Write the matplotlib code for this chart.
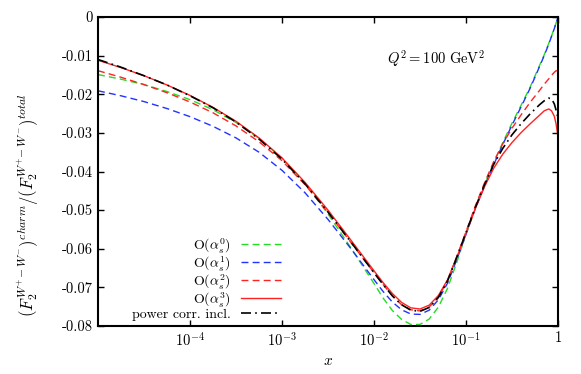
import matplotlib
matplotlib.use("Agg")
import matplotlib.pyplot as plt

plt.rcParams['font.family'] = 'serif'
plt.rcParams['font.serif'] = ['cmr10', 'DejaVu Serif']
plt.rcParams['mathtext.fontset'] = 'cm'
plt.rcParams['axes.formatter.use_mathtext'] = True

# log10 of x (momentum fraction)
logx = [-5, -4.75, -4.5, -4.25, -4, -3.75, -3.5, -3.25, -3, -2.75, -2.5, -2.25,
        -2, -1.9, -1.8, -1.7, -1.6, -1.5, -1.4, -1.3, -1.2, -1.1, -1.0, -0.9,
        -0.8, -0.7, -0.6, -0.5, -0.4, -0.3, -0.2, -0.15, -0.1, -0.07, -0.04, -0.02, 0]
x = [10 ** v for v in logx]

as0 = [-0.0149, -0.0161, -0.0175, -0.0193, -0.0214, -0.0240, -0.0273, -0.0314,
       -0.0365, -0.0430, -0.0510, -0.0598, -0.0690, -0.0728, -0.0760, -0.0783,
       -0.0796, -0.0796, -0.0782, -0.0751, -0.0702, -0.0635, -0.0562, -0.0495,
       -0.0435, -0.0378, -0.0325, -0.0275, -0.0228, -0.0180, -0.0125, -0.0098,
       -0.0068, -0.0049, -0.0029, -0.0015, 0.0]
as1 = [-0.0191, -0.0204, -0.0219, -0.0237, -0.0258, -0.0283, -0.0313, -0.0350,
       -0.0397, -0.0455, -0.0524, -0.0600, -0.0680, -0.0711, -0.0738, -0.0758,
       -0.0769, -0.0770, -0.0759, -0.0732, -0.0689, -0.0628, -0.0563, -0.0497,
       -0.0438, -0.0383, -0.0330, -0.0280, -0.0232, -0.0183, -0.0128, -0.0100,
       -0.0070, -0.0050, -0.0030, -0.0015, 0.0]
as2 = [-0.0139, -0.0156, -0.0175, -0.0196, -0.0220, -0.0248, -0.0282, -0.0323,
       -0.0372, -0.0434, -0.0506, -0.0584, -0.0662, -0.0693, -0.0722, -0.0745,
       -0.0758, -0.0761, -0.0751, -0.0725, -0.0682, -0.0620, -0.0556, -0.0490,
       -0.0430, -0.0375, -0.0328, -0.0288, -0.0253, -0.0220, -0.0190, -0.0174,
       -0.0160, -0.0151, -0.0143, -0.0139, -0.0142]
as3 = [-0.0112, -0.0131, -0.0152, -0.0176, -0.0203, -0.0234, -0.0270, -0.0313,
       -0.0365, -0.0428, -0.0500, -0.0578, -0.0657, -0.0688, -0.0716, -0.0739,
       -0.0753, -0.0756, -0.0746, -0.0721, -0.0680, -0.0622, -0.0560, -0.0497,
       -0.0440, -0.0392, -0.0355, -0.0325, -0.0299, -0.0276, -0.0254, -0.0243,
       -0.0238, -0.0243, -0.0257, -0.0278, -0.0310]
powcorr = [-0.0110, -0.0130, -0.0152, -0.0176, -0.0204, -0.0235, -0.0272, -0.0316,
           -0.0368, -0.0432, -0.0505, -0.0583, -0.0662, -0.0693, -0.0722, -0.0745,
           -0.0759, -0.0762, -0.0752, -0.0726, -0.0683, -0.0622, -0.0558, -0.0494,
           -0.0435, -0.0382, -0.0340, -0.0305, -0.0276, -0.0250, -0.0227, -0.0217,
           -0.0210, -0.0212, -0.0225, -0.0242, -0.0262]

xticks = [1e-4, 1e-3, 1e-2, 1e-1, 1]
xlabels = [r'$10^{-4}$', r'$10^{-3}$', r'$10^{-2}$', r'$10^{-1}$', '1']
yticks = [0, -0.01, -0.02, -0.03, -0.04, -0.05, -0.06, -0.07, -0.08]
ylabels = ['0', '-0.01', '-0.02', '-0.03', '-0.04', '-0.05', '-0.06', '-0.07', '-0.08']

fig = plt.figure(figsize=(5.81, 3.74), dpi=100)
ax = fig.add_axes([98/581, 1-326/374, 460/581, 309/374])

ax.plot(x, as0, color='#22dd22', lw=1.0, dashes=(5, 3), label=r'O$(\alpha_s^0)$')
ax.plot(x, as1, color='#2233ff', lw=1.0, dashes=(5, 3), label=r'O$(\alpha_s^1)$')
ax.plot(x, as2, color='#ff2222', lw=1.0, dashes=(5, 3), label=r'O$(\alpha_s^2)$')
ax.plot(x, as3, color='#ff2222', lw=1.0, label=r'O$(\alpha_s^3)$')
ax.plot(x, powcorr, color='black', lw=1.2, dashes=(6, 2.5, 1, 2.5), label='power corr. incl.')

ax.set_xscale('log')
ax.set_xlim(1e-5, 1)
ax.set_ylim(-0.08, 0)
ax.set_xticks(xticks)
ax.set_xticklabels(xlabels)
ax.minorticks_off()
ax.set_yticks(yticks)
ax.set_yticklabels(ylabels)
ax.tick_params(direction='in', top=True, right=True, length=4, width=1, labelsize=10.5)
for s in ax.spines.values():
    s.set_linewidth(1.5)

ax.set_xlabel(r'$x$', fontsize=11)
ax.set_ylabel(r'$(F_2^{W^{+}\!-W^{-}})^{charm}/(F_2^{W^{+}\!-W^{-}})^{total}$', fontsize=12)
ax.yaxis.set_label_coords(-0.123, 0.39)
ax.text(0.735, 0.867, r'$Q^2 = 100\ \mathrm{GeV}^2$', transform=ax.transAxes,
        ha='center', va='center', fontsize=10.5)

ax.legend(loc='lower right', bbox_to_anchor=(0.42, -0.015), frameon=False,
          markerfirst=False, fontsize=10, handlelength=2.9, labelspacing=-0.05,
          handletextpad=0.75, borderpad=0.2)

fig.savefig('out.png', dpi=100)
